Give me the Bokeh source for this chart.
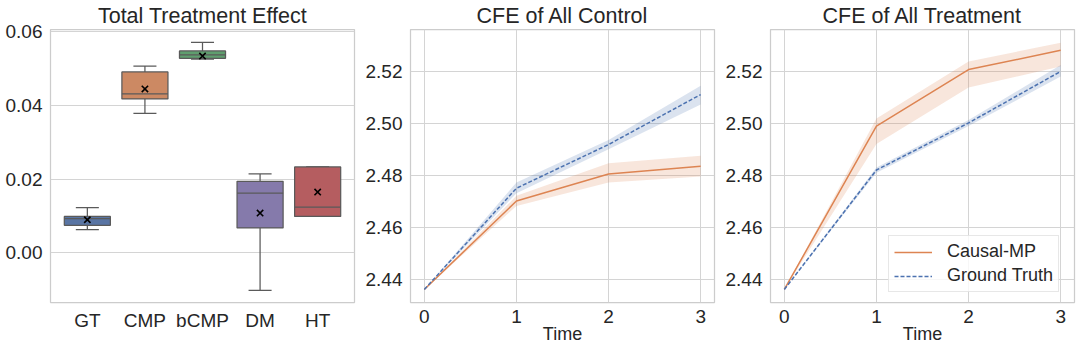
from bokeh.plotting import figure
from bokeh.layouts import row
from bokeh.models import (FactorRange, Range1d, FixedTicker, NumeralTickFormatter,
                          Legend, LegendItem, ColumnDataSource)
from bokeh.transform import dodge
from bokeh.embed import file_html
from bokeh.resources import INLINE

# ---------------- data ----------------
categories = ["GT", "CMP", "bCMP", "DM", "HT"]
q1 = [0.0075, 0.0417, 0.0527, 0.0068, 0.0099]
q3 = [0.0099, 0.0490, 0.0547, 0.0194, 0.0233]
medians = [0.0093, 0.0431, 0.0536, 0.0162, 0.0124]
whisker_low = [0.0063, 0.0378, 0.0525, -0.0101, 0.0099]
whisker_high = [0.0123, 0.0506, 0.0570, 0.0214, 0.0233]
means = [0.0090, 0.0444, 0.0533, 0.0108, 0.0165]
box_colors = ["#5975a4", "#cc8963", "#5f9e6e", "#857aab", "#b55d60"]

time = [0, 1, 2, 3]
ctrl_model = [2.4362, 2.4702, 2.4806, 2.4836]
ctrl_model_lo = [2.4362, 2.4683, 2.4773, 2.4796]
ctrl_model_hi = [2.4362, 2.4722, 2.4847, 2.4876]
ctrl_truth = [2.4362, 2.4751, 2.4919, 2.5111]
ctrl_truth_lo = [2.4362, 2.4732, 2.4901, 2.5073]
ctrl_truth_hi = [2.4362, 2.4773, 2.4936, 2.5145]
treat_model = [2.4362, 2.4990, 2.5207, 2.5281]
treat_model_lo = [2.4362, 2.4921, 2.5138, 2.5219]
treat_model_hi = [2.4362, 2.5019, 2.5238, 2.5310]
treat_truth = [2.4362, 2.4821, 2.5002, 2.5200]
treat_truth_lo = [2.4362, 2.4811, 2.4990, 2.5180]
treat_truth_hi = [2.4362, 2.4831, 2.5013, 2.5225]

model_label = "Causal-MP"
truth_label = "Ground Truth"
x_label = "Time"
model_color = "#dd8452"
truth_color = "#4c72b0"

FONT = "Liberation Sans"
TXT = "#262626"
GRID = "#d4d4d4"
H = 354
TOP = 29
BOTTOM = 51


def style(p, title):
    p.title.text = title
    p.title.text_font = FONT
    p.title.text_font_size = "21.5px"
    p.title.text_font_style = "normal"
    p.title.text_color = TXT
    p.title.align = "center"
    p.title.standoff = 3
    p.outline_line_color = "#cccccc"
    p.outline_line_width = 1.25
    p.background_fill_color = "white"
    p.border_fill_color = "white"
    for ax in p.axis:
        ax.axis_line_color = None
        ax.major_tick_line_color = None
        ax.minor_tick_line_color = None
        ax.major_tick_out = 0
        ax.major_tick_in = 0
        ax.minor_tick_out = 0
        ax.minor_tick_in = 0
        ax.major_label_text_font = FONT
        ax.major_label_text_font_size = "19px"
        ax.major_label_text_color = TXT
        ax.axis_label_text_font = FONT
        ax.axis_label_text_font_size = "18px"
        ax.axis_label_text_font_style = "normal"
        ax.axis_label_text_color = TXT
    p.yaxis.major_label_standoff = 8
    p.xaxis.major_label_standoff = 7
    p.xaxis.axis_label_standoff = -2
    p.grid.grid_line_color = GRID
    p.grid.grid_line_width = 1


# ---------------- panel 1: boxplot ----------------
src = ColumnDataSource(dict(cat=categories, q1=q1, q3=q3, med=medians,
                            lo=whisker_low, hi=whisker_high, mean=means,
                            color=box_colors))
p1 = figure(width=360, height=H, output_backend="svg", toolbar_location=None,
            x_range=FactorRange(factors=categories, range_padding=0.056),
            y_range=Range1d(-0.0134, 0.0605),
            min_border_left=50, min_border_right=6,
            min_border_top=TOP, min_border_bottom=BOTTOM)
style(p1, "Total Treatment Effect")
p1.xgrid.grid_line_color = None
p1.yaxis.ticker = FixedTicker(ticks=[0.0, 0.02, 0.04, 0.06])
p1.yaxis.formatter = NumeralTickFormatter(format="0.00")
p1.xaxis.axis_label = "\u00a0"

WCOL = "#5a5a5a"
p1.segment(x0="cat", y0="q3", x1="cat", y1="hi", source=src, line_color=WCOL, line_width=1.25)
p1.segment(x0="cat", y0="q1", x1="cat", y1="lo", source=src, line_color=WCOL, line_width=1.25)
p1.segment(x0=dodge("cat", -0.2, range=p1.x_range), y0="hi",
           x1=dodge("cat", 0.2, range=p1.x_range), y1="hi",
           source=src, line_color=WCOL, line_width=1.25)
p1.segment(x0=dodge("cat", -0.2, range=p1.x_range), y0="lo",
           x1=dodge("cat", 0.2, range=p1.x_range), y1="lo",
           source=src, line_color=WCOL, line_width=1.25)
p1.vbar(x="cat", top="q3", bottom="q1", width=0.8, source=src,
        fill_color="color", line_color=WCOL, line_width=1.25)
p1.segment(x0=dodge("cat", -0.4, range=p1.x_range), y0="med",
           x1=dodge("cat", 0.4, range=p1.x_range), y1="med",
           source=src, line_color=WCOL, line_width=1.25)
p1.scatter(x="cat", y="mean", source=src, marker="x", size=9,
           line_color="black", line_width=1.6)


# ---------------- panels 2 & 3 ----------------
def line_panel(title, m, mlo, mhi, t, tlo, thi, width, left, right, legend=False):
    p = figure(width=width, height=H, output_backend="svg", toolbar_location=None,
               x_range=Range1d(-0.15, 3.15), y_range=Range1d(2.4312, 2.5361),
               min_border_left=left, min_border_right=right,
               min_border_top=TOP, min_border_bottom=BOTTOM)
    style(p, title)
    p.xaxis.ticker = FixedTicker(ticks=time)
    p.yaxis.ticker = FixedTicker(ticks=[2.44, 2.46, 2.48, 2.50, 2.52])
    p.yaxis.formatter = NumeralTickFormatter(format="0.00")
    p.xaxis.axis_label = x_label
    p.varea(x=time, y1=mlo, y2=mhi, fill_color=model_color, fill_alpha=0.2)
    p.varea(x=time, y1=tlo, y2=thi, fill_color=truth_color, fill_alpha=0.2)
    r_m = p.line(time, m, line_color=model_color, line_width=1.5)
    r_t = p.line(time, t, line_color=truth_color, line_width=1.5, line_dash="4 2")
    if legend:
        lg = Legend(items=[LegendItem(label=model_label, renderers=[r_m]),
                           LegendItem(label=truth_label, renderers=[r_t])],
                    location=(118, 10))
        lg.label_text_font = FONT
        lg.label_text_font_size = "18px"
        lg.label_text_color = TXT
        lg.border_line_color = "#d0d0d0"
        lg.border_line_width = 1
        lg.background_fill_alpha = 0.8
        lg.glyph_width = 38
        lg.glyph_height = 20
        lg.label_height = 20
        lg.spacing = 3
        lg.padding = 5
        lg.margin = 0
        lg.label_standoff = 15
        p.add_layout(lg)
    return p


p2 = line_panel("CFE of All Control", ctrl_model, ctrl_model_lo, ctrl_model_hi,
                ctrl_truth, ctrl_truth_lo, ctrl_truth_hi, 360, 50, 6)
p3 = line_panel("CFE of All Treatment", treat_model, treat_model_lo, treat_model_hi,
                treat_truth, treat_truth_lo, treat_truth_hi, 358, 50, 4, legend=True)

layout = row(p1, p2, p3)
open("out.html", "w").write(file_html(layout, INLINE))
